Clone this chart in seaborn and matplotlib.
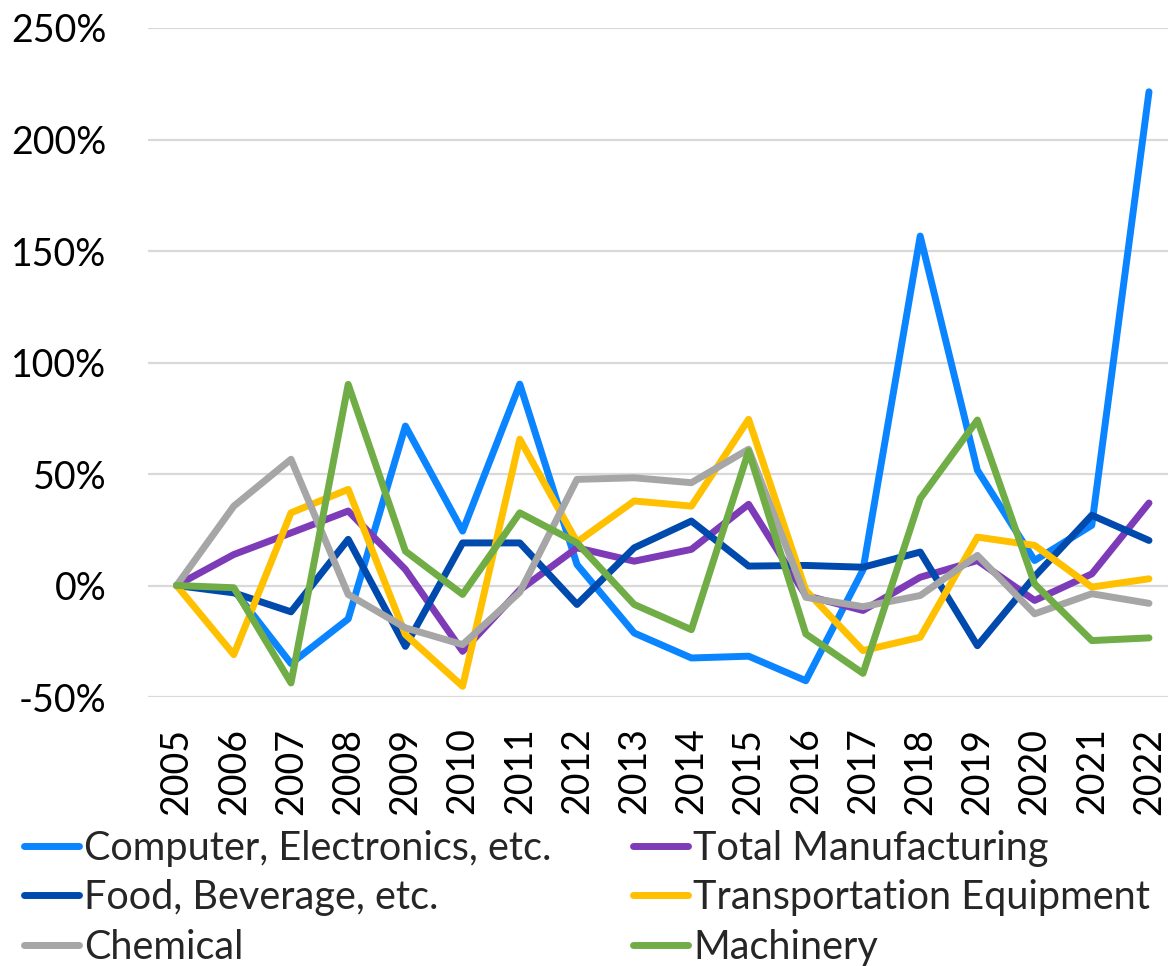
import matplotlib
matplotlib.use("Agg")
import matplotlib.pyplot as plt
from matplotlib.ticker import FuncFormatter
import pandas as pd
import seaborn as sns

years = list(range(2005, 2023))

computer = [0, -2, -35, -15, 71.5, 24.4, 90.3, 9.4, -21.3, -32.5, -31.7, -42.7, 7, 156.7, 51.7, 11.2, 27, 221.4]
total = [0, 13.9, 23.6, 33.4, 7.2, -29.5, -2, 16.9, 10.9, 16.2, 36.4, -4.5, -11.2, 3.7, 11.2, -6.7, 5.2, 37]
food = [0, -3.3, -11.8, 20.7, -27.3, 19.1, 19.1, -8.5, 16.9, 28.9, 8.7, 9, 8.2, 15, -27, 4, 31.5, 20.2]
transport = [0, -31, 32.6, 43.1, -22, -45.2, 65.6, 19.5, 37.9, 35.6, 74.5, -2.2, -29.2, -23.2, 21.7, 18, -0.7, 3]
chemical = [0, 35.6, 56.6, -4, -19, -26.5, -3, 47.6, 48.3, 46.1, 61.1, -5.3, -9.5, -4.5, 13.5, -12.7, -3.7, -8]
machinery = [0, -1, -43.7, 90.2, 15.4, -4, 32.6, 19.1, -8.5, -19.8, 60.3, -21.7, -39.4, 39, 74.2, 0.7, -24.7, -23.5]

series_names = [
    "Computer, Electronics, etc.",
    "Total Manufacturing",
    "Food, Beverage, etc.",
    "Transportation Equipment",
    "Chemical",
    "Machinery",
]
series_values = [computer, total, food, transport, chemical, machinery]
series_colors = ["#0A84FF", "#7E3BB8", "#004AAD", "#FFC000", "#A6A6A6", "#70AD47"]

frames = []
for name, vals in zip(series_names, series_values):
    frames.append(pd.DataFrame({"Year": years, "Change": vals, "Sector": name}))
df = pd.concat(frames, ignore_index=True)

sns.set_theme(style="white")
plt.rcParams["font.family"] = ["Lato", "DejaVu Sans"]

W, H = 1168, 966
fig = plt.figure(figsize=(W / 100, H / 100), dpi=100)
left, right, top, bottom = 148, 1177.6, 28, 697
ax = fig.add_axes([left / W, 1 - bottom / H, (right - left) / W, (bottom - top) / H])

LW = 5.0
sns.lineplot(
    data=df, x="Year", y="Change", hue="Sector",
    hue_order=series_names, palette=dict(zip(series_names, series_colors)),
    linewidth=LW, ax=ax, legend=False, sort=False,
)
for line in ax.lines:
    line.set_solid_joinstyle("round")
    line.set_solid_capstyle("round")

ax.set_xlim(2004.5, 2022.5)
ax.set_ylim(-50, 250)
ax.set_yticks(range(-50, 251, 50))
ax.yaxis.set_major_formatter(FuncFormatter(lambda v, p: f"{int(v)}%"))
ax.set_xticks(years)
ax.set_xticklabels([str(y) for y in years], rotation=90)
ax.set_xlabel("")
ax.set_ylabel("")
ax.grid(axis="y", color="#D9D9D9", linewidth=1.6)
ax.set_axisbelow(True)
for s in ax.spines.values():
    s.set_visible(False)
ax.tick_params(axis="y", labelsize=27, pad=30, length=0, colors="black")
ax.tick_params(axis="x", labelsize=27, pad=22, length=0, colors="black")

# legend laid out column-wise: left column first, then right column
handles = [plt.Line2D([0], [0], color=c, linewidth=LW, solid_capstyle="round") for c in series_colors]
order = [0, 2, 4, 1, 3, 5]
fig.legend(
    [handles[i] for i in order], [series_names[i] for i in order],
    ncol=2, loc="lower left", bbox_to_anchor=(24 / W, 0.0),
    frameon=False, fontsize=28.5, handlelength=1.4, handletextpad=0.12,
    columnspacing=2.05, labelspacing=0.32, borderaxespad=0, borderpad=0,
)

fig.savefig("out.png", dpi=100)
